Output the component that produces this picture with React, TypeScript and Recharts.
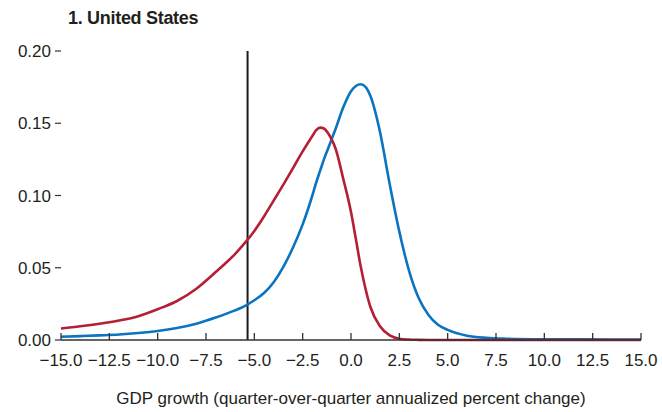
import { LineChart, Line, XAxis, YAxis, ReferenceLine } from "recharts";

// GDP growth grid (percent)
const GROWTH = [
    -15, -14, -13, -12, -11, -10, -9, -8, -7, -6, -5.5, -5, -4.5, -4, -3.5, -3,
    -2.5, -2, -1.8, -1.6, -1.4, -1.2, -1, -0.8, -0.4, 0, 0.25, 0.5, 0.75, 1, 1.5, 2, 2.5, 3, 3.5, 4, 4.5, 5,
    6, 7, 8, 10, 12, 15,
];

// red density (lower)
const RED = [
    0.008, 0.0095, 0.0113, 0.0135, 0.0165, 0.0213, 0.027, 0.0355, 0.047, 0.0595, 0.067, 0.0755,
    0.0855, 0.0965, 0.1075, 0.119, 0.1305, 0.1412, 0.1452, 0.147, 0.1464, 0.1435, 0.1388, 0.1325,
    0.1115, 0.0885, 0.07, 0.051, 0.0355, 0.023, 0.0095, 0.0032, 0.0009, 0.0003, 0.0001, 0, 0, 0,
    0, 0, 0, 0, 0, 0,
];

// blue density
const BLUE = [
    0.0023, 0.0027, 0.0032, 0.0038, 0.0048, 0.0062, 0.0083, 0.0113, 0.0155, 0.0205, 0.0235, 0.0275,
    0.0325, 0.04, 0.0506, 0.064, 0.08, 0.1, 0.109, 0.117, 0.125, 0.132, 0.139, 0.146, 0.161, 0.1722,
    0.1758, 0.177, 0.1752, 0.169, 0.144, 0.108, 0.075, 0.048, 0.029, 0.0175, 0.0105, 0.007,
    0.003, 0.0015, 0.0009, 0.0005, 0.0004, 0.0003,
];

const X_TICKS = [-15, -12.5, -10, -7.5, -5, -2.5, 0, 2.5, 5, 7.5, 10, 12.5, 15];
const Y_TICKS = [0, 0.05, 0.1, 0.15, 0.2];
const Y_TICKS_RIGHT = [0.05, 0.1, 0.15, 0.2];
const MARKER = -5.35;

const FONT = "'Liberation Sans', Arial, sans-serif";
const AXIS_Y = 340;

const rows = GROWTH.map((g, i) => ({ g, red: RED[i], blue: BLUE[i] }));

const fmtX = (v: number) => (v < 0 ? `\u2212${Math.abs(v).toFixed(1)}` : v.toFixed(1));

function XTick({ x, payload }: any) {
    return (
        <g>
            <line x1={x} x2={x} y1={AXIS_Y} y2={AXIS_Y - 7} stroke="#333" strokeWidth={1.3} />
            <text x={x} y={AXIS_Y + 26} textAnchor="middle" fontSize={17} fontFamily={FONT} fill="#231f20">
                {fmtX(payload.value)}
            </text>
        </g>
    );
}

export default function App() {
    return (
        <div style={{ position: "absolute", left: 0, top: 0, width: 662, height: 412, background: "#fff" }}>
            <div
                style={{
                    position: "absolute", left: 68, top: 7, fontFamily: FONT, fontWeight: 700,
                    fontSize: 18, color: "#231f20", lineHeight: "22px", letterSpacing: -0.3,
                }}
            >
                1. United States
            </div>
            <LineChart width={662} height={412} data={rows} margin={{ top: 51, right: 0, bottom: 0, left: 0 }}>
                <XAxis
                    type="number"
                    dataKey="g"
                    domain={[-15, 15]}
                    ticks={X_TICKS}
                    interval={0}
                    height={72}
                    tickLine={false}
                    axisLine={{ stroke: "#333", strokeWidth: 1.5 }}
                    tick={<XTick />}
                    label={{
                        value: "GDP growth (quarter-over-quarter annualized percent change)",
                        position: "insideBottom", offset: 8, fontSize: 17, fontFamily: FONT, fill: "#231f20",
                    }}
                />
                <YAxis
                    yAxisId="l"
                    domain={[0, 0.2]}
                    ticks={Y_TICKS}
                    interval={0}
                    width={61}
                    axisLine={false}
                    tickSize={6}
                    tickMargin={4}
                    tickLine={{ stroke: "#333", strokeWidth: 1.2 }}
                    tickFormatter={(v: number) => v.toFixed(2)}
                    tick={{ fontSize: 17, fontFamily: FONT, fill: "#231f20" }}
                />
                <YAxis
                    yAxisId="r"
                    orientation="right"
                    domain={[0, 0.2]}
                    ticks={Y_TICKS_RIGHT}
                    interval={0}
                    width={21}
                    axisLine={false}
                    tickSize={5}
                    tickLine={{ stroke: "#333", strokeWidth: 1.2 }}
                    tick={() => <g />}
                />
                <ReferenceLine yAxisId="l" x={MARKER} stroke="#1a1a1a" strokeWidth={2} />
                <Line
                    yAxisId="l"
                    type="monotone"
                    dataKey="blue"
                    stroke="#0b74c0"
                    strokeWidth={2.6}
                    dot={false}
                    isAnimationActive={false}
                />
                <Line
                    yAxisId="l"
                    type="monotone"
                    dataKey="red"
                    stroke="#b41f37"
                    strokeWidth={2.6}
                    dot={false}
                    isAnimationActive={false}
                />
            </LineChart>
        </div>
    );
}
